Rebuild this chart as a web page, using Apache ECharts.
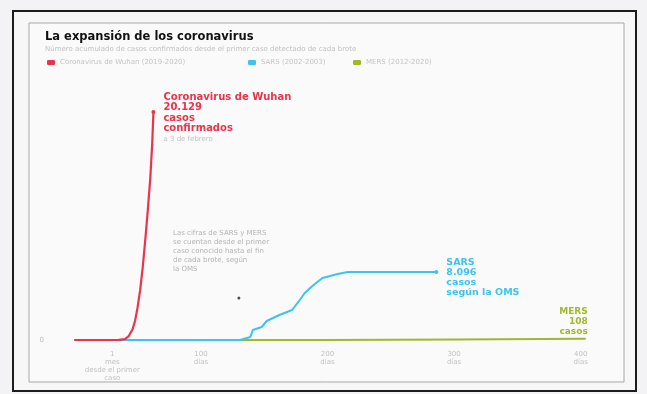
<!DOCTYPE html>
<html>
<head>
<meta charset="utf-8">
<script src="https://cdn.jsdelivr.net/npm/echarts@6.0.0/dist/echarts.min.js"></script>
<style>
  html, body { margin: 0; padding: 0; background: #f3f3f5; }
  #chart { width: 647px; height: 394px; }
</style>
</head>
<body>
<div id="chart"></div>
<script>
// dias desde el primer caso / casos confirmados
var wuhanDays = [0, 20, 35, 40, 43, 46, 48, 50, 52, 54, 56, 58, 60, 61.5, 62.5]
var wuhanCases = [0, 0, 10, 80, 350, 950, 1700, 2900, 4400, 6400, 8800, 11400, 14300, 17300, 20129]

var sarsDays = [0, 60, 120, 131, 139, 141, 148, 152, 162, 172, 177, 182, 189, 196, 208, 216, 230, 286]
var sarsCases = [0, 0, 0, 0, 265, 880, 1150, 1680, 2210, 2650, 3360, 4150, 4860, 5480, 5830, 6000, 6010, 6010]

var mersDays = [0, 100, 200, 300, 404]
var mersCases = [0, 0, 10, 50, 108]

var notePoint = [130, 3700]

var tickValues = [30, 100, 200, 300, 400]
var tickLabels = ['1\nmes\ndesde el primer\ncaso', '100\ndías', '200\ndías', '300\ndías', '400\ndías']

var names = ['Coronavirus de Wuhan (2019-2020)', 'SARS (2002-2003)', 'MERS (2012-2020)']
var colors = ['#e8344c', '#3dc4ee', '#a2b82a']

var myChart = echarts.init(document.getElementById('chart'))

function pairs(xs, ys, lastItem) {
  var out = xs.map(function (d, i) { return [d, ys[i]] })
  if (lastItem) {
    var last = out.pop()
    lastItem.value = last
    out.push(lastItem)
  }
  return out
}

var font = 'DejaVu Sans'

var option = {
  textStyle: { fontFamily: font },
  title: {
    text: 'La expansión de los coronavirus',
    subtext: 'Número acumulado de casos confirmados desde el primer caso detectado de cada brote',
    left: 40,
    top: 26,
    itemGap: 3,
    textStyle: { color: '#111', fontSize: 11.5, fontWeight: 'bold', fontFamily: font },
    subtextStyle: { color: '#c2c2c4', fontSize: 7, fontFamily: font },
  },
  legend: [
    { data: [names[0]], left: 42, top: 54 },
    { data: [names[1]], left: 243, top: 54 },
    { data: [names[2]], left: 348, top: 54 },
  ].map(function (l) {
    l.icon = 'roundRect'
    l.itemWidth = 8
    l.itemHeight = 5
    l.textStyle = { color: '#c4c4c6', fontSize: 7, fontFamily: font }
    return l
  }),
  graphic: [
    {
      type: 'rect', z: -10, silent: true,
      shape: { x: 13, y: 11, width: 623, height: 380 },
      style: { fill: '#f7f7f8', stroke: '#1c1c1c', lineWidth: 2 },
    },
    {
      type: 'rect', z: -9, silent: true,
      shape: { x: 29, y: 23, width: 595, height: 359 },
      style: { fill: '#fafafb', stroke: '#a8a8a8', lineWidth: 1 },
    },
    {
      type: 'text', left: 173, top: 229,
      style: {
        text: 'Las cifras de SARS y MERS\nse cuentan desde el primer\ncaso conocido hasta el fin\nde cada brote, según\nla OMS',
        fill: '#b4b4b6', fontSize: 7, lineHeight: 9, fontFamily: font,
      },
    },
  ],
  grid: { left: 68, right: 60, top: 100, bottom: 54 },
  xAxis: {
    type: 'value',
    min: -5,
    max: 405,
    axisLine: { show: false },
    axisTick: { show: false },
    splitLine: { show: false },
    axisLabel: {
      customValues: tickValues,
      formatter: function (v) { return tickLabels[tickValues.indexOf(v)] },
      color: '#c2c2c4',
      fontSize: 7,
      lineHeight: 8,
      margin: 10,
      verticalAlign: 'top',
    },
  },
  yAxis: {
    type: 'value',
    min: 0,
    max: 21200,
    axisLine: { show: false },
    axisTick: { show: false },
    splitLine: { show: false },
    axisLabel: { customValues: [0], color: '#c0c0c2', fontSize: 7, margin: 24 },
  },
  series: [
    {
      name: names[2],
      type: 'line',
      color: colors[2],
      lineStyle: { width: 2 },
      symbol: 'circle',
      symbolSize: 0,
      showAllSymbol: true,
      z: 2,
      data: pairs(mersDays, mersCases, {
        symbolSize: 0,
        label: {
          show: true,
          position: [2, -32],
          align: 'right',
          formatter: '{a|MERS}\n{a|108}\n{a|casos}',
          rich: { a: { color: colors[2], fontWeight: 'bold', fontSize: 9, lineHeight: 10, align: 'right', fontFamily: font } },
        },
      }),
    },
    {
      name: names[1],
      type: 'line',
      color: colors[1],
      lineStyle: { width: 2 },
      symbol: 'circle',
      symbolSize: 0,
      showAllSymbol: true,
      z: 3,
      data: pairs(sarsDays, sarsCases, {
        symbolSize: 4,
        label: {
          show: true,
          position: [12, -12],
          formatter: '{a|SARS}\n{a|8.096}\n{a|casos}\n{a|según la OMS}',
          rich: { a: { color: colors[1], fontWeight: 'bold', fontSize: 9.5, lineHeight: 10, fontFamily: font } },
        },
      }),
    },
    {
      name: names[0],
      type: 'line',
      color: colors[0],
      lineStyle: { width: 2.2 },
      symbol: 'circle',
      symbolSize: 0,
      showAllSymbol: true,
      z: 4,
      data: pairs(wuhanDays, wuhanCases, {
        symbolSize: 4,
        label: {
          show: true,
          position: [12, -18],
          formatter: '{a|Coronavirus de Wuhan}\n{a|20.129}\n{a|casos}\n{a|confirmados}\n{b|a 3 de febrero}',
          rich: {
            a: { color: colors[0], fontWeight: 'bold', fontSize: 10, lineHeight: 10.5, fontFamily: font },
            b: { color: '#c4c4c6', fontSize: 7, lineHeight: 10, fontFamily: font },
          },
        },
      }),
    },
    {
      name: 'nota',
      type: 'scatter',
      symbolSize: 3,
      color: '#222',
      data: [notePoint],
    },
  ],
}

myChart.setOption(option)
</script>
</body>
</html>
